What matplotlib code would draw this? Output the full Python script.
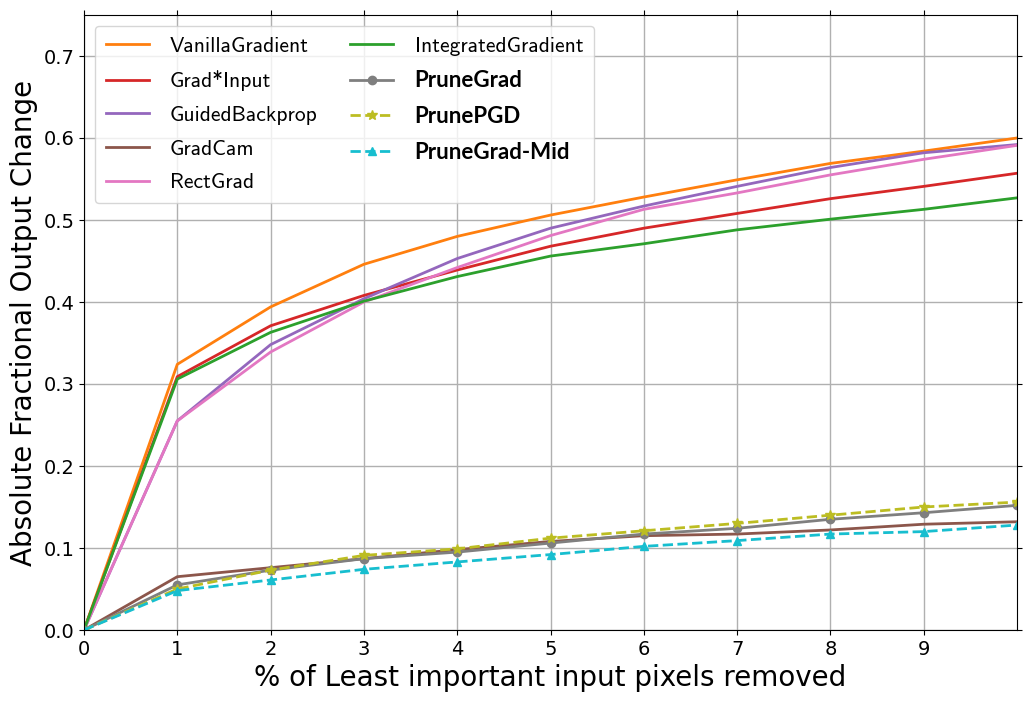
import numpy as np
import matplotlib.pyplot as plt

# % of least important pixels removed
removed = [0, 1, 2, 3, 4, 5, 6, 7, 8, 9, 10]

vanilla_grad = [0.0, 0.324, 0.394, 0.446, 0.480, 0.506, 0.528, 0.549, 0.569, 0.584, 0.600]
grad_input = [0.0, 0.309, 0.371, 0.408, 0.439, 0.468, 0.490, 0.508, 0.526, 0.541, 0.557]
guided_bp = [0.0, 0.255, 0.348, 0.404, 0.453, 0.490, 0.517, 0.541, 0.564, 0.582, 0.592]
grad_cam = [0.0, 0.065, 0.076, 0.087, 0.098, 0.108, 0.115, 0.117, 0.122, 0.129, 0.132]
rect_grad = [0.0, 0.255, 0.339, 0.400, 0.442, 0.481, 0.513, 0.533, 0.555, 0.574, 0.591]
integrated_grad = [0.0, 0.306, 0.363, 0.401, 0.431, 0.456, 0.471, 0.488, 0.501, 0.513, 0.527]
prune_grad = [0.0, 0.055, 0.073, 0.087, 0.095, 0.106, 0.117, 0.124, 0.135, 0.143, 0.152]
prune_pgd = [0.0, 0.050, 0.073, 0.091, 0.099, 0.112, 0.121, 0.130, 0.140, 0.150, 0.156]
prune_grad_mid = [0.0, 0.048, 0.061, 0.074, 0.083, 0.092, 0.102, 0.109, 0.117, 0.120, 0.128]

fig = plt.figure(figsize=(10.29, 7.03), dpi=100)
ax = fig.add_axes([84 / 1029, 1 - 630 / 703, (1017 - 84) / 1029, (630 - 15) / 703])

lw = 2
ax.plot(removed, vanilla_grad, color="tab:orange", lw=lw, label="VanillaGradient")
ax.plot(removed, grad_input, color="tab:red", lw=lw, label="Grad*Input")
ax.plot(removed, guided_bp, color="tab:purple", lw=lw, label="GuidedBackprop")
ax.plot(removed, grad_cam, color="tab:brown", lw=lw, label="GradCam")
ax.plot(removed, rect_grad, color="tab:pink", lw=lw, label="RectGrad")
ax.plot(removed, integrated_grad, color="tab:green", lw=lw, label="IntegratedGradient")
ax.plot(removed, prune_grad, color="tab:gray", lw=lw, marker="o", ms=6, label="PruneGrad")
ax.plot(removed, prune_pgd, color="tab:olive", lw=lw, ls="--", marker="*", ms=7, label="PrunePGD")
ax.plot(removed, prune_grad_mid, color="tab:cyan", lw=lw, ls="--", marker="^", ms=6, label="PruneGrad-Mid")

ax.set_xlim(0, 10)
ax.set_ylim(0, 0.75)
ax.set_xticks(range(10))
ax.set_yticks(np.arange(0, 0.71, 0.1))
ax.tick_params(labelsize=14, top=True, right=True, direction="out")
ax.grid(True, color="#b0b0b0", lw=1)
ax.set_axisbelow(True)

ax.set_xlabel("% of Least important input pixels removed", fontsize=20)
ax.set_ylabel("Absolute Fractional Output Change", fontsize=20)

leg = ax.legend(loc="upper left", ncol=2, fontsize=15.5, handlelength=2.0,
                handletextpad=1.0, columnspacing=1.5, labelspacing=0.68,
                borderaxespad=0.5, borderpad=0.5)
for txt in leg.get_texts():
    if txt.get_text().startswith("Prune"):
        txt.set_family(["Lato", "DejaVu Sans"])
        txt.set_fontweight("bold")
        txt.set_fontsize(16)
    else:
        txt.set_family("cmss10")

fig.savefig("out.png", dpi=100)
